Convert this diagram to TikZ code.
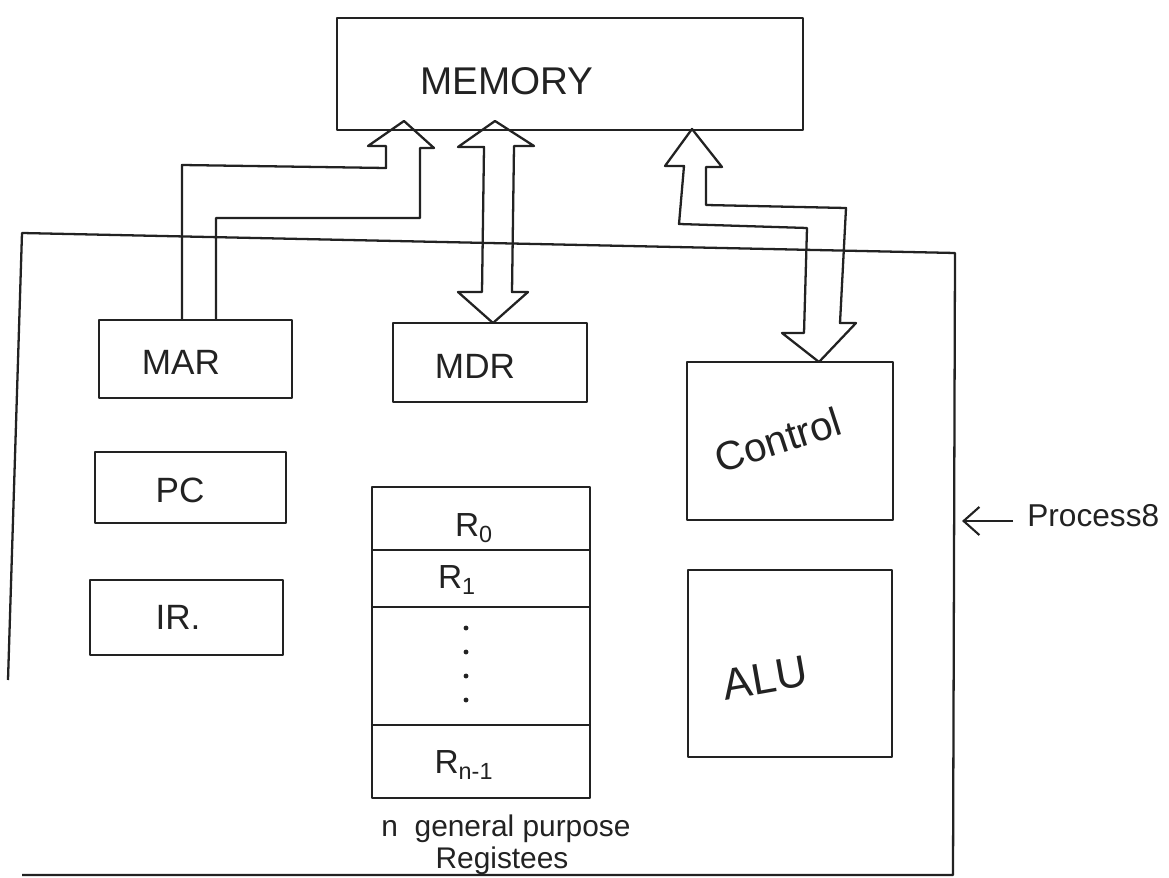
\documentclass[tikz,border=0pt]{standalone}
\usepackage{fontspec}
\setmainfont{Liberation Sans}
\usetikzlibrary{fit,arrows.meta}
\definecolor{ink}{HTML}{222222}
\begin{document}
\begin{tikzpicture}[x=0.02cm,y=-0.02cm,
  pen/.style={draw=ink, line width=1.3pt, line join=round},
  box/.style={pen, inner sep=0pt},
  hollow/.style={pen},
  lbl/.style={text=ink, inner sep=0pt, font=\fontsize{20}{24}\selectfont},
  big/.style={lbl, font=\fontsize{22}{26}\selectfont},
  reg/.style={lbl, font=\fontsize{19}{23}\selectfont},
  capt/.style={lbl, font=\fontsize{17}{20}\selectfont},
  dot/.style={fill=ink},
  sep/.style={draw=ink, line width=1.1pt}]
\useasboundingbox (0,0) rectangle (1169,878);

% processor outline
\draw[pen] (8,680) -- (22,233) -- (955,253) -- (953,875) -- (22,875);
\coordinate (pe) at (962,521);

% memory
\node[box, fit={(337,18) (803,130)}] (mem) {};
\node[big] (memtxt) at (507,81) {MEMORY};

% left registers
\node[box, fit={(99,320) (292,398)}] (mar) {};
\node[lbl] (martxt) at (181,362) {MAR};
\node[box, fit={(95,452) (286,523)}] (pc) {};
\node[lbl] (pctxt) at (180,490) {PC};
\node[box, fit={(90,580) (283,655)}] (ir) {};
\node[lbl] (irtxt) at (178,617) {IR.};

% MDR
\node[box, fit={(393,323) (587,402)}] (mdr) {};
\node[lbl] (mdrtxt) at (475,366) {MDR};

% register file
\node[box, fit={(372,487) (590,798)}] (rf) {};
\draw[sep] (rf.west |- 0,550) -- (rf.east |- 0,550);
\draw[sep] (rf.west |- 0,607) -- (rf.east |- 0,607);
\draw[sep] (rf.west |- 0,725) -- (rf.east |- 0,725);
\node[reg] (r0) at (474,528) {R\textsubscript{0}};
\node[reg] (r1) at (457,580) {R\textsubscript{1}};
\fill[dot] (466,628) circle (1.4pt);
\fill[dot] (466,652) circle (1.4pt);
\fill[dot] (466,676) circle (1.4pt);
\fill[dot] (466,700) circle (1.4pt);
\node[reg] (rn) at (464,765) {R\textsubscript{n-1}};
\node[capt] (cap1) at (506,829) {n\ \ general purpose};
\node[capt] (cap2) at (502,861) {Registees};

% control and ALU
\node[box, fit={(687,362) (893,520)}] (ctl) {};
\node[lbl, font=\fontsize{23}{27}\selectfont, rotate=18] (ctltxt) at (778,440) {Control};
\node[box, fit={(688,570) (892,757)}] (alu) {};
\node[lbl, font=\fontsize{25}{30}\selectfont, rotate=10] (alutxt) at (765,678) {ALU};

% processor label
\node[lbl, font=\fontsize{18}{22}\selectfont, anchor=west] (ptxt) at (1027,516) {Process8};
\draw[pen, line width=1.2pt, -{Straight Barb[length=9pt,width=16pt,line width=1.2pt]}] (ptxt.west) ++(-14,5) -- (pe);

% MAR -> memory (hollow arrow)
\draw[hollow] (182,321) -- (182,165) -- (386,168) -- (386,146) -- (368,146)
  -- (404,121) -- (434,148) -- (420,148) -- (420,218) -- (216,218) -- (216,321);

% MDR <-> memory
\draw[hollow] (495,121) -- (534,146) -- (514,146) -- (512,292) -- (528,292)
  -- (493,323) -- (458,292) -- (482,292) -- (484,147) -- (458,147) -- cycle;

% control <-> memory
\draw[hollow] (692,129) -- (722,167) -- (706,167) -- (706,205) -- (846,208)
  -- (840,323) -- (856,323) -- (819,362) -- (782,333) -- (804,333)
  -- (807,228) -- (679,224) -- (684,166) -- (665,166) -- cycle;
\end{tikzpicture}
\end{document}
